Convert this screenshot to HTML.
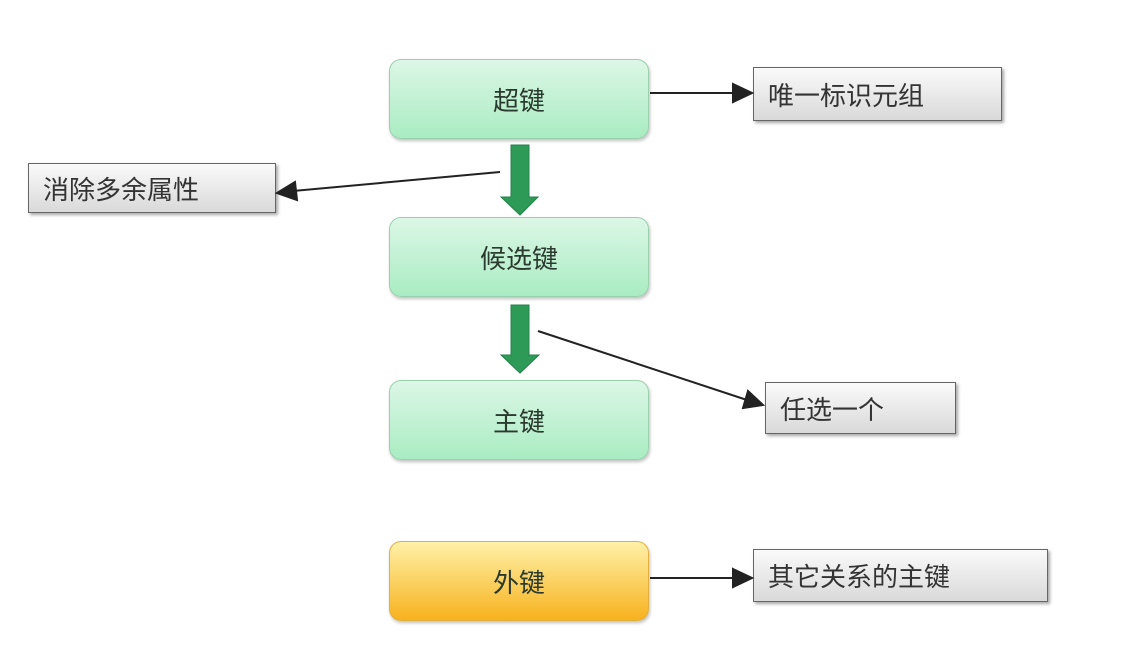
<!DOCTYPE html>
<html><head><meta charset="utf-8"><style>
body{margin:0;width:1133px;height:665px;background:#fff;position:relative;overflow:hidden;font-family:"Liberation Sans","Noto Sans CJK SC",sans-serif;}
.g{position:absolute;left:389px;width:258px;height:78px;border:1px solid #9ccfae;border-radius:12px;background:linear-gradient(#dcf7e6,#a9ecc2);box-shadow:1px 2px 3px rgba(0,0,0,.25);display:flex;align-items:center;justify-content:center;font-size:26px;color:#2b3a2e;}
.y{background:linear-gradient(#fff1a8,#f7b21e);border-color:#e2b040;}
.r{position:absolute;border:1px solid #666;background:linear-gradient(#fafafa,#d9d9d9);box-shadow:2px 2px 3px rgba(0,0,0,.35);font-size:26px;color:#333;display:flex;align-items:center;padding-left:14px;box-sizing:border-box;}
svg{position:absolute;left:0;top:0;}
</style></head><body>
<div class="g" style="top:59px">超键</div>
<div class="g" style="top:217px">候选键</div>
<div class="g" style="top:380px">主键</div>
<div class="g y" style="top:541px">外键</div>
<div class="r" style="left:753px;top:67px;width:249px;height:54px">唯一标识元组</div>
<div class="r" style="left:28px;top:163px;width:248px;height:50px">消除多余属性</div>
<div class="r" style="left:765px;top:382px;width:191px;height:52px">任选一个</div>
<div class="r" style="left:753px;top:549px;width:295px;height:53px">其它关系的主键</div>
<svg width="1133" height="665">
<defs><marker id="a" markerWidth="10" markerHeight="10" refX="9" refY="5" orient="auto" markerUnits="userSpaceOnUse"><path d="M0,0 L12,5 L0,10z" fill="#222" transform="scale(1.6) translate(-4,-2)"/></marker></defs>
<g fill="#2e9a58" stroke="#25804a" stroke-width="1">
<path d="M511,145 H529 V197 H538 L520,215 L501,197 H511Z"/>
<path d="M511,305 H529 V355 H539 L520,373 L501,355 H511Z"/>
</g>
<g stroke="#222" stroke-width="2" fill="#222">
<line x1="650" y1="93" x2="735" y2="93"/><path d="M733,84 L752,93 L733,102Z"/>
<line x1="650" y1="578" x2="735" y2="578"/><path d="M733,569 L752,578 L733,587Z"/>
<line x1="500" y1="172" x2="293" y2="191"/><path d="M295,182 L277,193 L297,200Z"/>
<line x1="538" y1="331" x2="747" y2="400"/><path d="M748,391 L763,405 L743,408Z"/>
</g>
</svg>
</body></html>
